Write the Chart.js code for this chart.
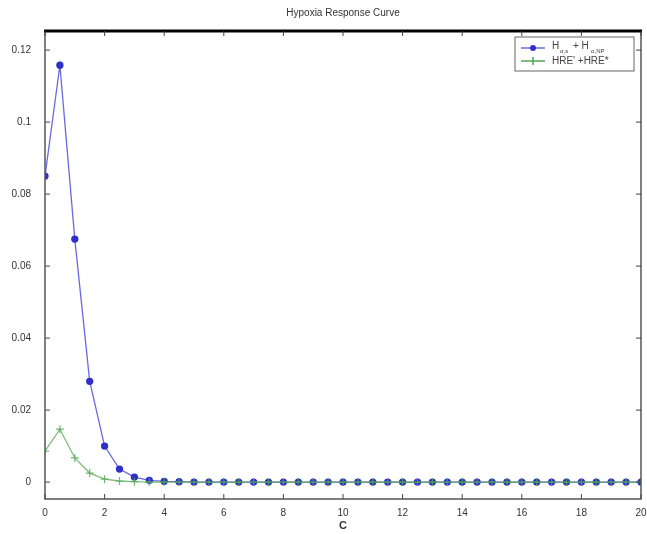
<!DOCTYPE html>
<html>
<head>
<meta charset="utf-8">
<script src="https://cdn.jsdelivr.net/npm/chart.js@4/dist/chart.umd.min.js"></script>
<style>
  html, body { margin: 0; padding: 0; background: #fff; }
  #wrap { width: 647px; height: 534px; }
</style>
</head>
<body>
<div id="wrap"><canvas id="hypoxiaChart" width="647" height="534"></canvas></div>
<script>
var cValues = [];
for (var i = 0; i <= 40; i++) cValues.push(i / 2);

var hifValues = [0.085, 0.1158, 0.0675, 0.028, 0.010, 0.0036, 0.0014, 0.0005, 0.0002, 0.0001,
  0, 0, 0, 0, 0, 0, 0, 0, 0, 0, 0, 0, 0, 0, 0, 0, 0, 0, 0, 0, 0, 0, 0, 0, 0, 0, 0, 0, 0, 0, 0];
var hreValues = [0.0086, 0.0147, 0.0067, 0.0025, 0.0008, 0.0003, 0.0001, 0, 0, 0,
  0, 0, 0, 0, 0, 0, 0, 0, 0, 0, 0, 0, 0, 0, 0, 0, 0, 0, 0, 0, 0, 0, 0, 0, 0, 0, 0, 0, 0, 0, 0];

var xTicks = [0, 2, 4, 6, 8, 10, 12, 14, 16, 18, 20];
var yTicks = [0, 0.02, 0.04, 0.06, 0.08, 0.1, 0.12];
var chartTitle = 'Hypoxia Response Curve';
var xLabel = 'C';

var BLUE = '#3030c8';
var BLUE_LINE = '#6a6ae0';
var GREEN = '#50a850';
var FONT = '"Liberation Sans", Arial, sans-serif';

function toPoints(ys) {
  return ys.map(function(y, i) { return { x: cValues[i], y: y }; });
}

// MATLAB-ish frame: box, inward ticks, title, x label, legend
var framePlugin = {
  id: 'frame',
  afterDraw: function(chart) {
    var ctx = chart.ctx, a = chart.chartArea;
    var xs = chart.scales.x, ys = chart.scales.y;
    ctx.save();
    // box
    ctx.strokeStyle = '#555';
    ctx.lineWidth = 1.5;
    ctx.strokeRect(a.left, a.top, a.right - a.left, a.bottom - a.top);
    ctx.strokeStyle = '#000';
    ctx.lineWidth = 3;
    ctx.beginPath(); ctx.moveTo(a.left - 1, a.top); ctx.lineTo(a.right + 1, a.top); ctx.stroke();

    // inward ticks
    ctx.strokeStyle = '#444';
    ctx.lineWidth = 1;
    xTicks.forEach(function(v) {
      var px = xs.getPixelForValue(v);
      ctx.beginPath(); ctx.moveTo(px, a.bottom); ctx.lineTo(px, a.bottom - 5); ctx.stroke();
      ctx.beginPath(); ctx.moveTo(px, a.top); ctx.lineTo(px, a.top + 5); ctx.stroke();
    });
    yTicks.forEach(function(v) {
      var py = ys.getPixelForValue(v);
      ctx.beginPath(); ctx.moveTo(a.left, py); ctx.lineTo(a.left + 5, py); ctx.stroke();
      ctx.beginPath(); ctx.moveTo(a.right, py); ctx.lineTo(a.right - 5, py); ctx.stroke();
    });

    // title and x label
    ctx.fillStyle = '#333';
    ctx.font = '10px ' + FONT;
    ctx.textAlign = 'center';
    ctx.textBaseline = 'middle';
    ctx.fillText(chartTitle, (a.left + a.right) / 2, 13);
    ctx.font = 'bold 11px ' + FONT;
    ctx.fillText(xLabel, (a.left + a.right) / 2, 526);

    // legend
    var lx = 515, ly = 37, lw = 119, lh = 34;
    ctx.fillStyle = '#fff';
    ctx.fillRect(lx, ly, lw, lh);
    ctx.strokeStyle = '#666';
    ctx.lineWidth = 1;
    ctx.strokeRect(lx, ly, lw, lh);

    var r1 = ly + 11, r2 = ly + 24;
    ctx.strokeStyle = BLUE_LINE; ctx.lineWidth = 1.5;
    ctx.beginPath(); ctx.moveTo(lx + 6, r1); ctx.lineTo(lx + 30, r1); ctx.stroke();
    ctx.fillStyle = BLUE;
    ctx.beginPath(); ctx.arc(lx + 18, r1, 3, 0, Math.PI * 2); ctx.fill();
    ctx.strokeStyle = GREEN;
    ctx.beginPath(); ctx.moveTo(lx + 6, r2); ctx.lineTo(lx + 30, r2); ctx.stroke();
    ctx.beginPath(); ctx.moveTo(lx + 18, r2 - 4); ctx.lineTo(lx + 18, r2 + 4); ctx.stroke();

    ctx.fillStyle = '#444';
    ctx.textAlign = 'left';
    ctx.textBaseline = 'middle';
    var tx = lx + 37;
    ctx.font = '10px ' + FONT;
    ctx.fillText('H', tx, r1 - 2);
    ctx.font = '6px ' + FONT;
    ctx.fillText('\u03b1,s', tx + 8, r1 + 3);
    ctx.font = '10px ' + FONT;
    ctx.fillText('+ H', tx + 21, r1 - 2);
    ctx.font = '6px ' + FONT;
    ctx.fillText('\u03b1,NP', tx + 39, r1 + 3);
    ctx.font = '10px ' + FONT;
    ctx.fillText("HRE' +HRE*", tx, r2);
    ctx.restore();
  }
};

var ctx = document.getElementById('hypoxiaChart');
new Chart(ctx, {
  type: 'line',
  data: {
    datasets: [{
      label: 'H_a,s + H_a,NP',
      data: toPoints(hifValues),
      order: 1,
      borderColor: BLUE_LINE,
      backgroundColor: BLUE,
      pointBackgroundColor: BLUE,
      pointBorderColor: BLUE,
      pointRadius: 3,
      borderWidth: 1.3,
      tension: 0
    }, {
      label: "HRE' +HRE*",
      data: toPoints(hreValues),
      order: 0,
      borderColor: 'rgba(80,168,80,0.75)',
      backgroundColor: GREEN,
      pointStyle: 'cross',
      pointRadius: 4,
      pointBorderColor: 'rgba(80,168,80,0.8)',
      pointBorderWidth: 1.2,
      borderWidth: 1.3,
      tension: 0
    }]
  },
  options: {
    responsive: false,
    animation: false,
    layout: { padding: { top: 31, right: 6, left: 0, bottom: 0 } },
    plugins: { legend: { display: false }, title: { display: false }, tooltip: { enabled: false } },
    scales: {
      x: {
        type: 'linear', min: 0, max: 20,
        afterBuildTicks: function(s) { s.ticks = xTicks.map(function(v) { return { value: v }; }); },
        afterFit: function(s) { s.height = 35; s.paddingLeft = 0; s.paddingRight = 0; },
        grid: { display: false },
        border: { display: false },
        ticks: { color: '#333', font: { size: 10, family: FONT }, padding: 0, maxRotation: 0 }
      },
      y: {
        type: 'linear', min: -0.0047, max: 0.1253,
        afterBuildTicks: function(s) { s.ticks = yTicks.map(function(v) { return { value: v }; }); },
        afterFit: function(s) { s.width = 45; },
        grid: { display: false },
        border: { display: false },
        ticks: {
          color: '#333', font: { size: 10, family: FONT }, padding: 6,
          callback: function(v) { return v === 0 ? '0' : String(Math.round(v * 100) / 100); }
        }
      }
    }
  },
  plugins: [framePlugin]
});
</script>
</body>
</html>
